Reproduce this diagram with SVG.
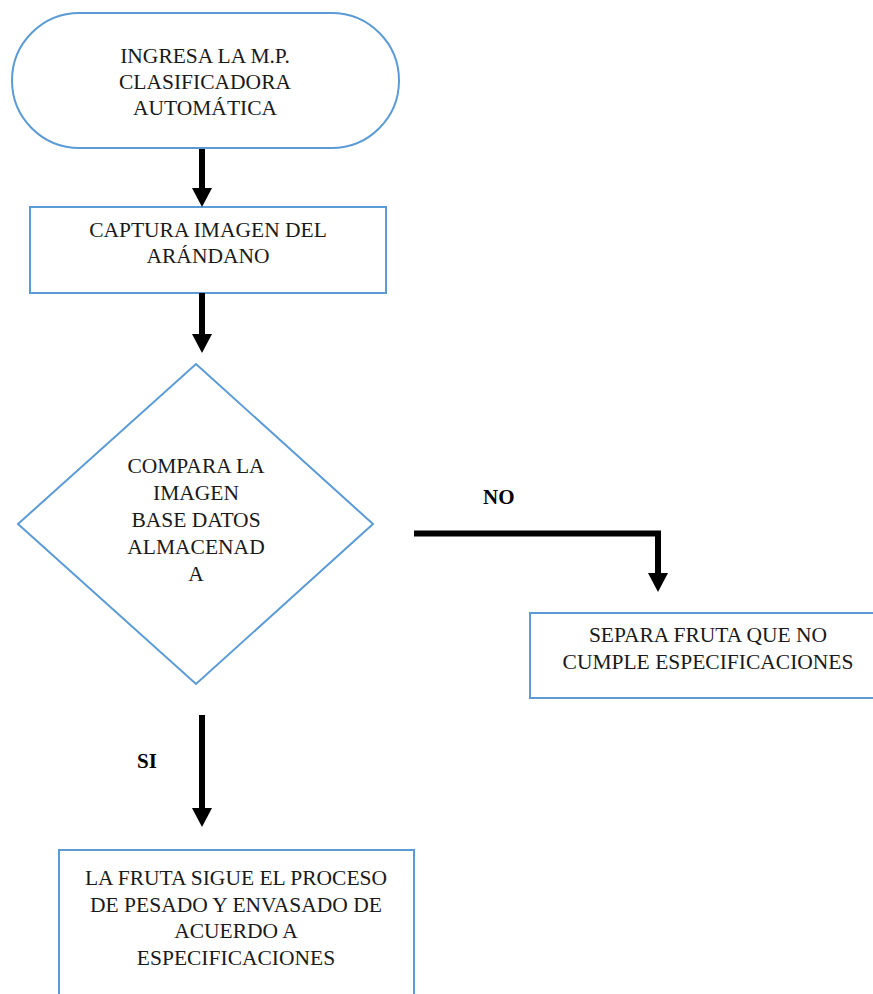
<svg xmlns="http://www.w3.org/2000/svg" width="873" height="994" viewBox="0 0 873 994">
<style>
.shape{fill:#ffffff;stroke:#5b9bd5;stroke-width:2}
.t{font-family:"Liberation Serif","Times New Roman",serif;font-size:21.5px;fill:#1a1a1a;text-anchor:middle}
.lbl{font-family:"Liberation Serif","Times New Roman",serif;font-size:21px;font-weight:bold;fill:#000}
.conn{fill:none;stroke:#000;stroke-width:6}
</style>
<defs>
<marker id="ah" viewBox="0 0 19 20" markerWidth="19" markerHeight="20" refX="0" refY="10" orient="auto" markerUnits="userSpaceOnUse">
<path d="M0,0 L19,10 L0,20 z" fill="#000"/>
</marker>
</defs>
<rect width="873" height="994" fill="#ffffff"/>
<g id="n1">
<rect class="shape" x="12" y="13" width="387" height="135" rx="67.5" ry="67.5"/>
<text class="t" x="205" y="63">INGRESA LA M.P.</text>
<text class="t" x="205" y="89">CLASIFICADORA</text>
<text class="t" x="205" y="115">AUTOMÁTICA</text>
</g>
<g id="n2">
<rect class="shape" x="30" y="207" width="356" height="86"/>
<text class="t" x="208" y="237">CAPTURA IMAGEN DEL</text>
<text class="t" x="208" y="263">ARÁNDANO</text>
</g>
<g id="n3">
<polygon class="shape" points="196,364 373,524 196,684 18,524"/>
<text class="t" x="196" y="473">COMPARA LA</text>
<text class="t" x="196" y="500">IMAGEN</text>
<text class="t" x="196" y="527">BASE DATOS</text>
<text class="t" x="196" y="554">ALMACENAD</text>
<text class="t" x="196" y="581">A</text>
</g>
<g id="n4">
<rect class="shape" x="530" y="613" width="360" height="85"/>
<text class="t" x="708" y="642">SEPARA FRUTA QUE NO</text>
<text class="t" x="708" y="669">CUMPLE ESPECIFICACIONES</text>
</g>
<g id="n5">
<rect class="shape" x="59" y="850" width="355" height="160"/>
<text class="t" x="236" y="885">LA FRUTA SIGUE EL PROCESO</text>
<text class="t" x="236" y="912">DE PESADO Y ENVASADO DE</text>
<text class="t" x="236" y="938">ACUERDO A</text>
<text class="t" x="236" y="965">ESPECIFICACIONES</text>
</g>
<g id="connectors">
<line class="conn" x1="202" y1="149" x2="202" y2="188" marker-end="url(#ah)"/>
<line class="conn" x1="202" y1="293" x2="202" y2="334" marker-end="url(#ah)"/>
<path class="conn" d="M414,533.5 H658 V573" marker-end="url(#ah)"/>
<line class="conn" x1="202" y1="715" x2="202" y2="808" marker-end="url(#ah)"/>
<text class="lbl" x="483" y="504">NO</text>
<text class="lbl" x="137" y="768">SI</text>
</g>
</svg>
